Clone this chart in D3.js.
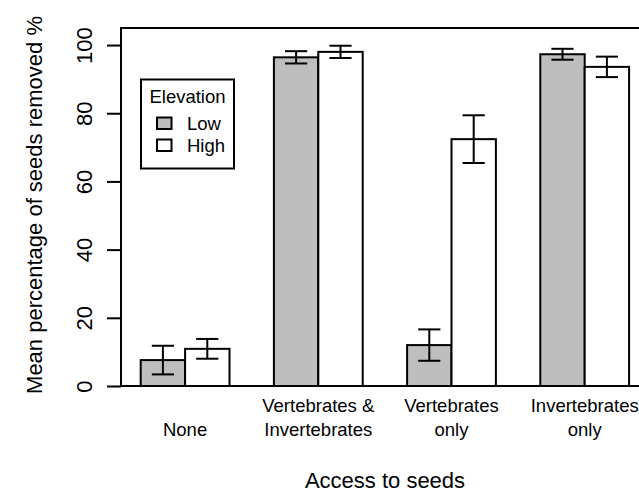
<!DOCTYPE html>
<html>
<head>
<meta charset="utf-8">
<script src="https://cdn.jsdelivr.net/npm/d3@7"></script>
<style>
  html, body { margin: 0; padding: 0; background: #fff; }
  svg { display: block; font-family: "Liberation Sans", Arial, sans-serif; }
</style>
</head>
<body>
<svg id="chart" width="639" height="493"></svg>
<script>
const categories = ["None", "Vertebrates & Invertebrates", "Vertebrates only", "Invertebrates only"];
const categoryLines = [["None"], ["Vertebrates &", "Invertebrates"], ["Vertebrates", "only"], ["Invertebrates", "only"]];
const elevations = ["Low", "High"];
const lowMeans = [7.6, 96.4, 12.0, 97.3];
const highMeans = [10.9, 98.0, 72.4, 93.6];
const lowSE = [4.2, 1.8, 4.6, 1.6];
const highSE = [2.9, 1.8, 7.0, 3.0];
const yTicks = [0, 20, 40, 60, 80, 100];
const fills = { Low: "#BEBEBE", High: "#FFFFFF" };

const svg = d3.select("#chart");
const plot = { left: 121, top: 28, right: 648.6, bottom: 386 };

const y = d3.scaleLinear().domain([0, 105]).range([plot.bottom, plot.top]);
const x0 = d3.scaleBand().domain(categories).range([140.7, 629.1]).paddingInner(1 / 3).paddingOuter(0);
const x1 = d3.scaleBand().domain(elevations).range([0, x0.bandwidth()]);

const data = [];
categories.forEach((c, i) => {
  data.push({ cat: c, elev: "Low", mean: lowMeans[i], se: lowSE[i] });
  data.push({ cat: c, elev: "High", mean: highMeans[i], se: highSE[i] });
});

// bars
svg.append("g").selectAll("rect").data(data).join("rect")
  .attr("x", d => x0(d.cat) + x1(d.elev))
  .attr("y", d => y(d.mean))
  .attr("width", x1.bandwidth())
  .attr("height", d => y(0) - y(d.mean))
  .attr("fill", d => fills[d.elev])
  .attr("stroke", "#000")
  .attr("stroke-width", 2);

// error bars
const eb = svg.append("g").attr("stroke", "#000").attr("stroke-width", 2);
const cap = x1.bandwidth() / 4;
data.forEach(d => {
  const cx = x0(d.cat) + x1(d.elev) + x1.bandwidth() / 2;
  const yt = y(d.mean + d.se), yb = y(d.mean - d.se);
  eb.append("line").attr("x1", cx).attr("x2", cx).attr("y1", yt).attr("y2", yb);
  eb.append("line").attr("x1", cx - cap).attr("x2", cx + cap).attr("y1", yt).attr("y2", yt);
  eb.append("line").attr("x1", cx - cap).attr("x2", cx + cap).attr("y1", yb).attr("y2", yb);
});

// plot box
svg.append("rect")
  .attr("x", plot.left).attr("y", plot.top)
  .attr("width", plot.right - plot.left).attr("height", plot.bottom - plot.top)
  .attr("fill", "none").attr("stroke", "#000").attr("stroke-width", 2);

// y axis
const yAxis = d3.axisLeft(y).tickValues(yTicks).tickSize(14).tickPadding(0).tickFormat(d3.format("d"));
const yg = svg.append("g").attr("transform", `translate(${plot.left},0)`).call(yAxis);
yg.select(".domain").remove();
yg.selectAll(".tick line").attr("stroke", "#000").attr("stroke-width", 2);
yg.selectAll(".tick text")
  .attr("x", 0).attr("dy", null)
  .attr("transform", "translate(-37,0) rotate(-90)")
  .attr("text-anchor", "middle")
  .attr("dominant-baseline", "central")
  .attr("font-size", 22)
  .attr("fill", "#000");

// category labels
const labG = svg.append("g").attr("font-size", 18.5).attr("fill", "#000").attr("text-anchor", "middle");
categories.forEach((c, i) => {
  const lines = categoryLines[i];
  const cx = x0(c) + x0.bandwidth() / 2;
  lines.forEach((ln, j) => {
    const base = 435.7 - (lines.length - 1 - j) * 24;
    labG.append("text").attr("x", cx).attr("y", base).text(ln);
  });
});

// axis titles
svg.append("text")
  .attr("x", 385).attr("y", 488)
  .attr("text-anchor", "middle").attr("font-size", 22).attr("fill", "#000")
  .text("Access to seeds");
svg.append("text")
  .attr("transform", "translate(42,205) rotate(-90)")
  .attr("text-anchor", "middle").attr("font-size", 22).attr("fill", "#000")
  .text("Mean percentage of seeds removed %");

// legend
const lg = svg.append("g");
lg.append("rect").attr("x", 141).attr("y", 79.5).attr("width", 93).attr("height", 89)
  .attr("fill", "#fff").attr("stroke", "#000").attr("stroke-width", 2);
lg.append("text").attr("x", 187.5).attr("y", 102.5).attr("text-anchor", "middle")
  .attr("font-size", 18.5).attr("fill", "#000").text("Elevation");
elevations.forEach((e, i) => {
  const cy = 123.5 + i * 22;
  lg.append("rect").attr("x", 157).attr("y", cy - 6).attr("width", 14.5).attr("height", 11.5)
    .attr("fill", fills[e]).attr("stroke", "#000").attr("stroke-width", 2);
  lg.append("text").attr("x", 187).attr("y", cy + 6.5)
    .attr("font-size", 18.5).attr("fill", "#000").text(e);
});
</script>
</body>
</html>
